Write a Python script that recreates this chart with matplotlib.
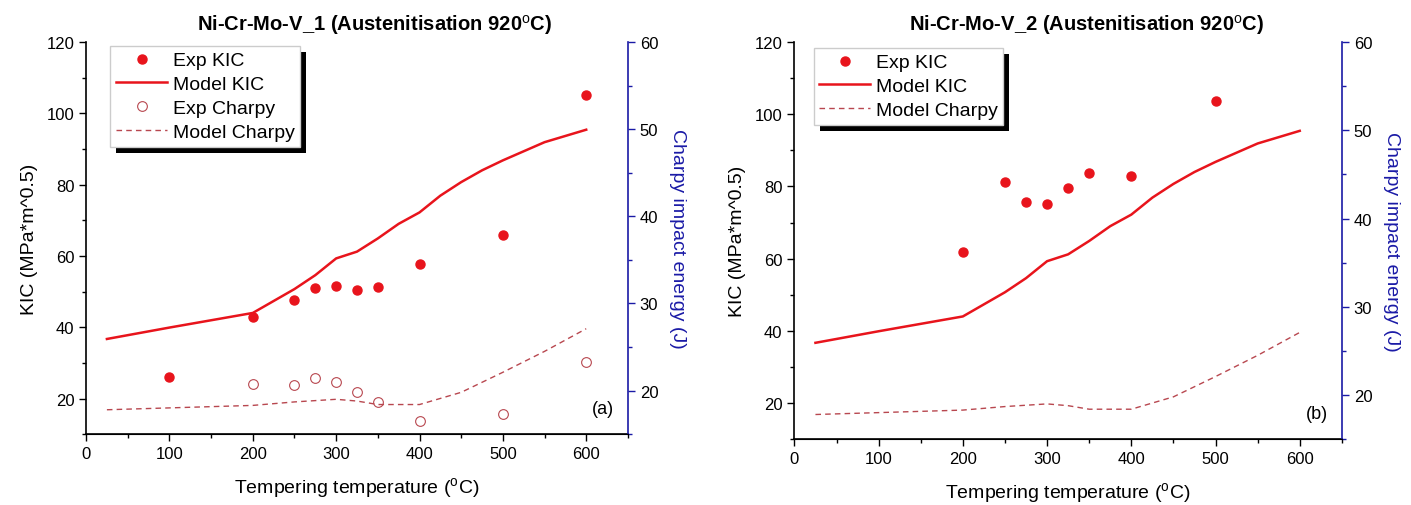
import matplotlib
matplotlib.use("Agg")
import matplotlib.pyplot as plt
from matplotlib.ticker import MultipleLocator
from matplotlib.patches import Rectangle
from matplotlib.transforms import IdentityTransform

plt.rcParams['font.family'] = ['Liberation Sans', 'DejaVu Sans']
plt.rcParams['mathtext.fontset'] = 'custom'
plt.rcParams['mathtext.rm'] = 'Liberation Sans'
plt.rcParams['mathtext.bf'] = 'Liberation Sans:bold'

# ---- data ----
model_x = [25, 100, 200, 250, 275, 300, 325, 350, 375, 400, 425, 450, 475, 500, 550, 600]
model_kic = [36.7, 39.9, 44.0, 50.7, 54.6, 59.3, 61.2, 64.9, 69.0, 72.2, 76.9, 80.7, 84.0, 86.8, 91.9, 95.4]
model_charpy_x = [25, 200, 250, 300, 325, 350, 400, 450, 500, 550, 600]
model_charpy = [17.8, 18.3, 18.7, 19.0, 18.8, 18.4, 18.4, 19.8, 22.1, 24.5, 27.1]

exp1_x = [100, 200, 250, 275, 300, 325, 350, 400, 500, 600]
exp1_kic = [26.0, 43.0, 47.5, 51.1, 51.5, 50.5, 51.4, 57.7, 65.8, 105.2]
charpy1_x = [200, 250, 275, 300, 325, 350, 400, 500, 600]
charpy1 = [20.8, 20.6, 21.5, 21.0, 19.8, 18.7, 16.5, 17.3, 23.3]

exp2_x = [200, 250, 275, 300, 325, 350, 400, 500]
exp2_kic = [61.9, 81.3, 75.6, 75.2, 79.6, 83.6, 82.8, 103.6]

titles = [r'Ni-Cr-Mo-V_1 (Austenitisation 920$^{\mathrm{o}}$C)',
          r'Ni-Cr-Mo-V_2 (Austenitisation 920$^{\mathrm{o}}$C)']
panel_tags = ['(a)', '(b)']

RED = '#e8141c'
CH = '#b8474f'
BLUE = '#1a1aa6'

fig = plt.figure(figsize=(14.11, 5.06), dpi=100)
rects = [[0.061, 0.140, 0.384, 0.775], [0.563, 0.130, 0.388, 0.785]]
leg_anchor = [(0.045, 0.99), (0.035, 0.985)]

legends = []
for i, r in enumerate(rects):
    ax = fig.add_axes(r)
    ax2 = ax.twinx()
    h = []
    if i == 0:
        h.append(ax.plot(exp1_x, exp1_kic, 'o', color=RED, ms=6.5, label='Exp KIC')[0])
    else:
        h.append(ax.plot(exp2_x, exp2_kic, 'o', color=RED, ms=6.5, label='Exp KIC')[0])
    h.append(ax.plot(model_x, model_kic, '-', color=RED, lw=1.8, label='Model KIC')[0])
    if i == 0:
        h.append(ax2.plot(charpy1_x, charpy1, 'o', mfc='none', mec=CH, mew=0.8, ms=7, label='Exp Charpy')[0])
    h.append(ax2.plot(model_charpy_x, model_charpy, '--', color=CH, lw=1.0, dashes=(4, 3), label='Model Charpy')[0])

    ax.set_xlim(0, 650)
    ax.set_ylim(10, 120)
    ax2.set_ylim(15, 60)
    ax.xaxis.set_major_locator(MultipleLocator(100))
    ax.xaxis.set_minor_locator(MultipleLocator(50))
    ax.yaxis.set_major_locator(MultipleLocator(20))
    ax.yaxis.set_minor_locator(MultipleLocator(10))
    ax2.yaxis.set_major_locator(MultipleLocator(10))
    ax2.yaxis.set_minor_locator(MultipleLocator(5))
    for a in (ax, ax2):
        a.tick_params(which='major', direction='out', length=5, width=1.0, labelsize=12)
        a.tick_params(which='minor', direction='out', length=3, width=1.0)
    ax.tick_params(top=False, right=False)
    ax.spines['top'].set_visible(False)
    ax2.spines['top'].set_visible(False)
    ax.spines['right'].set_visible(False)
    ax2.spines['left'].set_visible(False)
    ax2.spines['right'].set_color(BLUE)
    ax2.tick_params(axis='y', which='both', colors=BLUE, labelcolor='black')
    for s in ('left', 'bottom'):
        ax.spines[s].set_linewidth(1.2)
    ax2.spines['right'].set_linewidth(1.2)

    ax.set_xlabel(r'Tempering temperature ($^{\mathrm{o}}$C)', fontsize=14, labelpad=10)
    ax.set_ylabel('KIC (MPa*m^0.5)', fontsize=14, labelpad=6)
    ax2.set_ylabel('Charpy impact energy (J)', fontsize=14, color=BLUE, rotation=270, labelpad=20)
    ax.set_title(titles[i], fontsize=14.5, fontweight='bold', pad=9, x=0.533)
    ax.text(0.975, 0.065, panel_tags[i], transform=ax.transAxes, ha='right', va='center', fontsize=13)

    leg = ax2.legend(handles=h, loc='upper left', bbox_to_anchor=leg_anchor[i], fontsize=14,
                     fancybox=False, framealpha=1, edgecolor='#cccccc', borderpad=0.3,
                     labelspacing=0.32, handlelength=2.6, handletextpad=0.3, borderaxespad=0.0)
    leg.set_zorder(10)
    legends.append((ax2, leg))

fig.canvas.draw()
for ax2, leg in legends:
    bb = leg.get_window_extent()
    sh = Rectangle((bb.x0 + 6, bb.y0 - 6), bb.width, bb.height, transform=IdentityTransform(),
                   facecolor='black', edgecolor='none', zorder=9, clip_on=False)
    ax2.add_artist(sh)

fig.savefig('out.png', dpi=100)
